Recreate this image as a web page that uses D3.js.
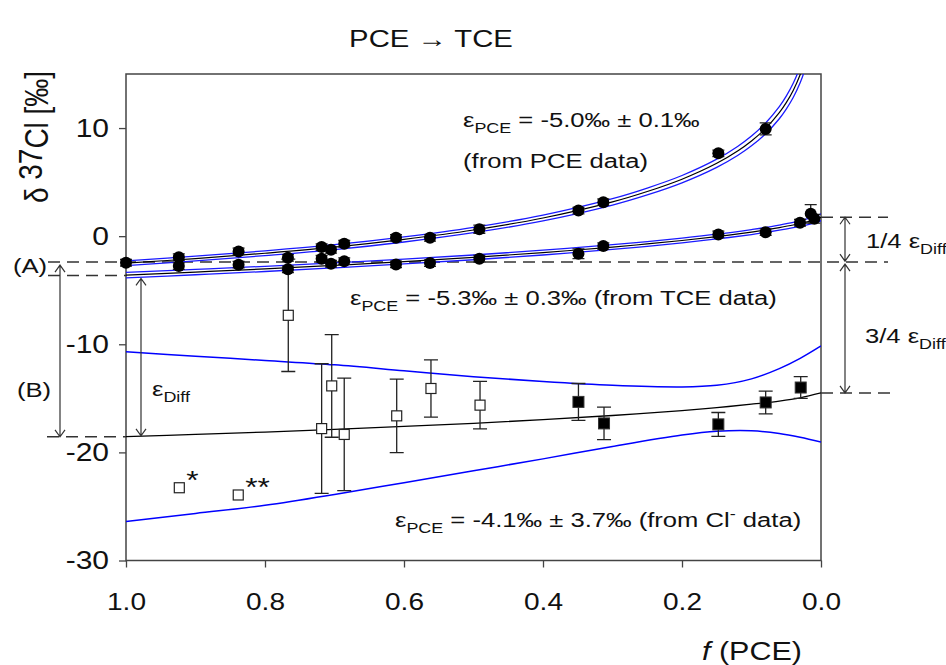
<!DOCTYPE html>
<html>
<head>
<meta charset="utf-8">
<script src="https://cdn.jsdelivr.net/npm/d3@7"></script>
<style>
  body { margin: 0; background: #fff; }
  text { font-family: "Liberation Sans", Arial, sans-serif; fill: #111; }
</style>
</head>
<body>
<div id="chart"></div>
<script>
// fitted Rayleigh curves at these f values
var pceKnotsF = [1, 0.9, 0.8, 0.7, 0.6, 0.5, 0.4, 0.3, 0.25, 0.2, 0.15, 0.12, 0.1, 0.08, 0.06, 0.05, 0.04, 0.03, 0.025, 0.02];
var pceFit    = [-2.5, -2.07, -1.58, -1.02, -0.3, 0.57, 1.68, 3.17, 4.13, 5.27, 6.74, 7.88, 8.81, 9.95, 11.42, 12.35, 13.48, 14.93, 15.85, 16.98];
var pceBand   = [0.22, 0.22, 0.22, 0.23, 0.24, 0.25, 0.27, 0.3, 0.32, 0.34, 0.38, 0.42, 0.45, 0.5, 0.56, 0.6, 0.66, 0.74, 0.8, 0.86];

var tceKnotsF = [1, 0.9, 0.8, 0.7, 0.6, 0.5, 0.4, 0.3, 0.25, 0.2, 0.15, 0.1, 0.08, 0.06, 0.04, 0.03, 0.02, 0.01, 0.005, 0];
var tceFit    = [-3.6, -3.32, -3.03, -2.7, -2.35, -1.96, -1.52, -1.01, -0.72, -0.4, -0.04, 0.38, 0.57, 0.79, 1.03, 1.17, 1.32, 1.5, 1.61, 1.75];
var tceBand   = [0.26, 0.25, 0.24, 0.23, 0.22, 0.22, 0.22, 0.22, 0.22, 0.22, 0.22, 0.23, 0.23, 0.24, 0.25, 0.26, 0.27, 0.29, 0.3, 0.32];

var clKnotsF = [1, 0.9, 0.8, 0.7, 0.6, 0.5, 0.4, 0.3, 0.2, 0.15, 0.1, 0.06, 0.03, 0];
var clFit    = [-18.55, -18.34, -18.12, -17.87, -17.6, -17.31, -16.97, -16.59, -16.13, -15.86, -15.54, -15.25, -14.95, -14.5];
var clHi     = [-10.7, -11.1, -11.5, -11.9, -12.45, -13.0, -13.45, -13.8, -13.95, -13.8, -13.2, -12.25, -11.3, -10.15];
var clLo     = [-26.4, -25.65, -24.9, -23.9, -22.8, -21.7, -20.6, -19.45, -18.4, -18.05, -18.0, -18.25, -18.6, -19.05];

// measured points [f, delta, error]
var pcePoints = [[1.0, -2.46, 0.3], [0.924, -1.94, 0.3], [0.838, -1.41, 0.3], [0.767, -2.0, 0.3],
  [0.7185, -1.01, 0.3], [0.705, -1.26, 0.3], [0.686, -0.7, 0.3], [0.6115, -0.15, 0.3],
  [0.5626, -0.15, 0.3], [0.4916, 0.65, 0.38], [0.349, 2.37, 0.3], [0.3132, 3.14, 0.3],
  [0.1477, 7.66, 0.3], [0.0796, 9.92, 0.55]];
var tcePoints = [[0.924, -2.77, 0.3], [0.838, -2.64, 0.3], [0.767, -3.07, 0.3], [0.7185, -2.09, 0.3],
  [0.705, -2.55, 0.3], [0.686, -2.31, 0.3], [0.6115, -2.61, 0.3], [0.5626, -2.49, 0.3],
  [0.4916, -2.09, 0.3], [0.349, -1.63, 0.45], [0.3132, -0.92, 0.3], [0.1477, 0.16, 0.3],
  [0.0796, 0.37, 0.3], [0.0302, 1.24, 0.3], [0.0148, 2.07, 0.85], [0.0096, 1.61, 0.4]];
var clOpen = [[0.7665, -7.32, 5.2], [0.7185, -17.8, 6.0], [0.704, -13.85, 4.75], [0.686, -18.34, 5.2],
  [0.6105, -16.62, 3.4], [0.5612, -14.09, 2.65], [0.4906, -15.63, 2.2]];
var clOutliers = [[0.9233, -23.27, "*"], [0.8385, -23.94, "**"]];
var clFilled = [[0.349, -15.33, 1.7], [0.3122, -17.32, 1.5], [0.1477, -17.41, 1.1], [0.0796, -15.38, 1.05], [0.0292, -14.0, 1.0]];

// reference levels for the epsilon-diff construction
var levelA = -2.4, levelTce0 = -3.63, levelB = -18.56, levelTop = 1.75, levelEnd = -14.5;

var xTicks = [1.0, 0.8, 0.6, 0.4, 0.2, 0.0];
var yTicks = [-30, -20, -10, 0, 10];

var SX = 1.22; // the lettering in the original is a bit wide

var svg = d3.select("#chart").append("svg").attr("width", 946).attr("height", 665);
var pL = 126, pR = 821, pT = 74, pB = 560.5;
var x = d3.scaleLinear().domain([1, 0]).range([pL, pR]);
var y = d3.scaleLinear().domain([-30, 15]).range([pB, pT]);

svg.append("clipPath").attr("id", "plot")
  .append("rect").attr("x", pL).attr("y", pT).attr("width", pR - pL).attr("height", pB - pT);

function rich(px, py, size, parts, anchor) {
  var t = svg.append("g").attr("transform", "translate(" + px + "," + py + ") scale(" + SX + ",1)")
    .append("text").attr("font-size", size).attr("text-anchor", anchor || "start");
  var shift = 0;
  parts.forEach(function(p) {
    var want = p[1] == "sub" ? size * 0.3 : p[1] == "sup" ? -size * 0.4 : 0;
    var ts = t.append("tspan").attr("dy", want - shift).attr("font-size", p[1] ? size * 0.7 : size).text(p[0]);
    if (p[2]) ts.attr("font-style", p[2]);
    shift = want;
  });
  return t;
}

// axes
var gx = svg.append("g").attr("transform", "translate(0," + pB + ")")
  .call(d3.axisBottom(x).tickValues(xTicks).tickFormat(d3.format(".1f")).tickSize(7).tickPadding(26));
var gy = svg.append("g").attr("transform", "translate(" + pL + ",0)")
  .call(d3.axisLeft(y).tickValues(yTicks).tickFormat(function(d) { return String(d); }).tickSize(7).tickPadding(11));
[gx, gy].forEach(function(g) {
  g.select(".domain").remove();
  g.selectAll(".tick line").attr("stroke", "#444").attr("stroke-width", 1.3);
  g.selectAll(".tick text").attr("fill", "#111")
    .attr("font-family", "Liberation Sans, Arial, sans-serif");
});
gx.selectAll(".tick text").attr("font-size", 23).attr("transform", "scale(" + SX + ",1)");
gy.selectAll(".tick text").attr("font-size", 25).attr("transform", "scale(1.2,1)").attr("x", -17 / 1.2);

svg.append("rect").attr("x", pL).attr("y", pT).attr("width", pR - pL).attr("height", pB - pT)
  .attr("fill", "none").attr("stroke", "#444").attr("stroke-width", 1.5);

// dashed reference lines
function dashed(x1, x2, v) {
  svg.append("line").attr("x1", x1).attr("x2", x2).attr("y1", y(v)).attr("y2", y(v))
    .attr("stroke", "#333").attr("stroke-width", 1.5).attr("stroke-dasharray", "12,7");
}
dashed(48, 888, levelA);
dashed(48, pL, levelTce0);
dashed(47, pL, levelB);
dashed(pR, 888, levelTop);
dashed(pR, 890, levelEnd);

// curves
var plot = svg.append("g").attr("clip-path", "url(#plot)");
function curve(fs, vs, color, w) {
  var line = d3.line().x(function(d) { return x(d[0]); }).y(function(d) { return y(d[1]); })
    .curve(d3.curveCatmullRom.alpha(0.5));
  plot.append("path").attr("d", line(fs.map(function(f, i) { return [f, vs[i]]; })))
    .attr("fill", "none").attr("stroke", color).attr("stroke-width", w);
}
function bandCurves(fs, fit, band) {
  curve(fs, fit.map(function(v, i) { return v + band[i]; }), "#1a1aff", 1.3);
  curve(fs, fit.map(function(v, i) { return v - band[i]; }), "#1a1aff", 1.3);
  curve(fs, fit, "#000", 1.2);
}
bandCurves(pceKnotsF, pceFit, pceBand);
bandCurves(tceKnotsF, tceFit, tceBand);
curve(clKnotsF, clHi, "#0000ff", 1.5);
curve(clKnotsF, clLo, "#0000ff", 1.5);
curve(clKnotsF, clFit, "#000", 1.3);

// error bars
function errBars(data, cap) {
  data.forEach(function(d) {
    var cx = x(d[0]), y1 = y(d[1] - d[2]), y2 = y(d[1] + d[2]);
    svg.append("path").attr("d", "M" + cx + "," + y1 + "V" + y2 + "M" + (cx - cap) + "," + y1 + "H" + (cx + cap) + "M" + (cx - cap) + "," + y2 + "H" + (cx + cap))
      .attr("stroke", "#222").attr("stroke-width", 1.3).attr("fill", "none");
  });
}
errBars(pcePoints, 6);
errBars(tcePoints, 6);
errBars(clOpen, 7);
errBars(clFilled, 7);

svg.selectAll(".pce").data(pcePoints.concat(tcePoints)).enter().append("circle")
  .attr("cx", function(d) { return x(d[0]); }).attr("cy", function(d) { return y(d[1]); })
  .attr("r", 6).attr("fill", "#000");

svg.selectAll(".clo").data(clOpen.concat(clOutliers)).enter().append("rect")
  .attr("x", function(d) { return x(d[0]) - 5; }).attr("y", function(d) { return y(d[1]) - 5; })
  .attr("width", 10).attr("height", 10).attr("fill", "#fff").attr("stroke", "#222").attr("stroke-width", 1.2);

svg.selectAll(".clf").data(clFilled).enter().append("rect")
  .attr("x", function(d) { return x(d[0]) - 5.5; }).attr("y", function(d) { return y(d[1]) - 5.5; })
  .attr("width", 11).attr("height", 11).attr("fill", "#000").attr("stroke", "#333").attr("stroke-width", 1);

clOutliers.forEach(function(d) {
  rich(x(d[0]) + 7, y(d[1]) + 1, 26, [[d[2]]]);
});

// double-headed arrows
function arrow(ax, v1, v2, off1, off2) {
  var ya = y(v1) + off1, yb = y(v2) + off2;
  svg.append("path")
    .attr("d", "M" + ax + "," + ya + "V" + yb +
      "M" + (ax - 5) + "," + (ya + 7) + "L" + ax + "," + ya + "L" + (ax + 5) + "," + (ya + 7) +
      "M" + (ax - 5) + "," + (yb - 7) + "L" + ax + "," + yb + "L" + (ax + 5) + "," + (yb - 7))
    .attr("stroke", "#333").attr("stroke-width", 1.2).attr("fill", "none");
}
arrow(60, levelA, levelB, 3, 0);
arrow(141, levelTce0, levelB, 3, -1);
arrow(845, levelTop, levelA, 0, -1);
arrow(845, levelA, levelEnd, 2, 0);

// labels
rich(431, 47, 24, [["PCE \u2192 TCE"]], "middle");
rich(463, 127, 21, [["\u03b5"], ["PCE", "sub"], [" = -5.0\u2030 \u00b1 0.1\u2030"]]);
rich(463, 168, 21, [["(from PCE data)"]]);
rich(350, 305, 21, [["\u03b5"], ["PCE", "sub"], [" = -5.3\u2030 \u00b1 0.3\u2030 (from TCE data)"]]);
rich(395, 527, 21, [["\u03b5"], ["PCE", "sub"], [" = -4.1\u2030 \u00b1 3.7\u2030 (from Cl"], ["-", "sup"], [" data)"]]);
rich(13, 273, 21, [["(A)"]]);
rich(17, 397, 21, [["(B)"]]);
rich(152, 396, 21, [["\u03b5"], ["Diff", "sub"]]);
rich(866, 248, 21, [["1/4 \u03b5"], ["Diff", "sub"]]);
rich(865, 343, 21, [["3/4 \u03b5"], ["Diff", "sub"]]);
rich(702, 660, 25, [["f", null, "italic"], [" (PCE)"]]);

var yl = svg.append("g").attr("transform", "translate(48,137) rotate(-90) scale(1,1.2)")
  .append("text").attr("font-size", 28).attr("text-anchor", "middle");
yl.append("tspan").text("\u03b4 ");
yl.append("tspan").attr("dy", -5).text("37");
yl.append("tspan").attr("dy", 5).text("Cl [\u2030]");
</script>
</body>
</html>
